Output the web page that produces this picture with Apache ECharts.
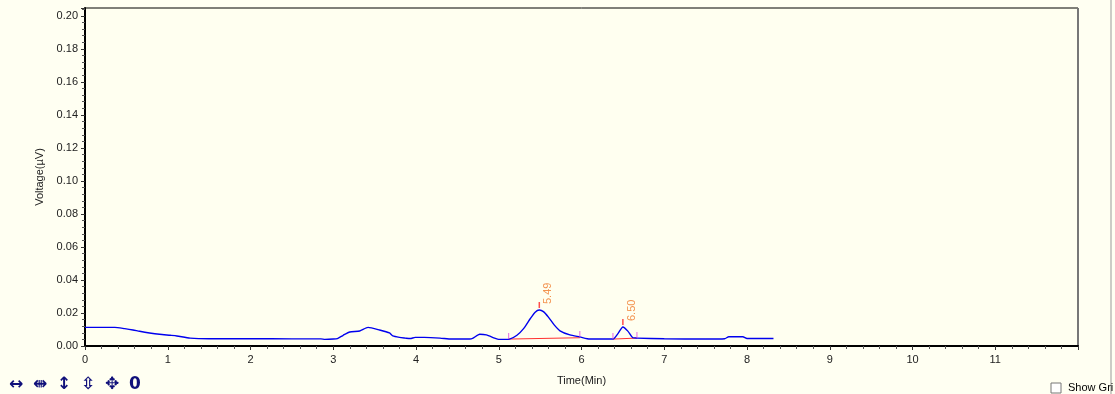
<!DOCTYPE html>
<html>
<head>
<meta charset="utf-8">
<script src="https://cdn.jsdelivr.net/npm/echarts@6/dist/echarts.min.js"></script>
<style>
  html, body { margin: 0; padding: 0; background: #fffff2; }
  #main { width: 1115px; height: 394px; }
</style>
</head>
<body>
<div id="main"></div>
<script>
// chromatogram trace (time in min, voltage)
var traceTime = [0, 0.36, 0.48, 0.58, 0.66, 0.78, 0.9, 1.03, 1.11, 1.27, 1.5, 2.0, 2.5, 2.85, 2.9, 3.0, 3.05, 3.12, 3.2, 3.32, 3.42, 3.56, 3.68, 3.72, 3.8, 3.87, 3.93, 3.99, 4.1, 4.29, 4.43, 4.65, 4.69, 4.77, 4.85, 4.95, 5.0, 5.13, 5.22, 5.3, 5.38, 5.44, 5.49, 5.54, 5.6, 5.67, 5.74, 5.86, 5.98, 6.1, 6.38, 6.44, 6.5, 6.56, 6.62, 6.67, 7.0, 7.5, 7.73, 7.78, 7.95, 8.0, 8.32];
var traceVolt = [0.0113, 0.0113, 0.0105, 0.0097, 0.0089, 0.0079, 0.0071, 0.0065, 0.0061, 0.0048, 0.0044, 0.0044, 0.0043, 0.0043, 0.0040, 0.0042, 0.0045, 0.0065, 0.0085, 0.0091, 0.0113, 0.0097, 0.0079, 0.0061, 0.0052, 0.0048, 0.0045, 0.0052, 0.0052, 0.0048, 0.0042, 0.0042, 0.0048, 0.0071, 0.0067, 0.0048, 0.0040, 0.0042, 0.0065, 0.0105, 0.0165, 0.0205, 0.0218, 0.0208, 0.0175, 0.0128, 0.0092, 0.0067, 0.0055, 0.0042, 0.0042, 0.0075, 0.0115, 0.0090, 0.0050, 0.0048, 0.0044, 0.0042, 0.0044, 0.0056, 0.0056, 0.0045, 0.0045];

// integration baselines
var base1 = [[5.12, 0.0042], [5.98, 0.0050]];
var base2 = [[6.38, 0.0042], [6.67, 0.0048]];

// peak apexes and start/end marks
var peakTimes = [5.49, 6.50];
var peakVolts = [0.0218, 0.0115];
var edgeMarks = [[5.12, 0.0042], [5.98, 0.0055], [6.38, 0.0042], [6.67, 0.0048]];

var yTicks = ['0.00', '0.02', '0.04', '0.06', '0.08', '0.10', '0.12', '0.14', '0.16', '0.18', '0.20'];
var toolIcons = ['↔', '⇼', '↕', '⇳', '✥', '0'];

var lineData = traceTime.map(function (t, i) { return [t, traceVolt[i]]; });
var peakData = peakTimes.map(function (t, i) { return [t, peakVolts[i]]; });

var chart = echarts.init(document.getElementById('main'));
var txt = '#222';
var font = 'Liberation Sans, Arial, sans-serif';

var toolbar = toolIcons.map(function (s, i) {
    return {
        type: 'text', left: 9 + i * 24, top: 376,
        style: { text: s, fill: '#10107a', font: 'bold 17px DejaVu Sans' }
    };
});

var option = {
    backgroundColor: '#fffff2',
    animation: false,
    grid: {
        left: 85, right: 37, top: 8, bottom: 48,
        show: true, backgroundColor: '#fffff0',
        borderColor: '#000', borderWidth: 1
    },
    xAxis: {
        type: 'value', min: 0, max: 12, interval: 1,
        name: 'Time(Min)', nameLocation: 'middle', nameGap: 29,
        nameTextStyle: { color: txt, fontSize: 11, fontFamily: font },
        axisLine: { show: true, onZero: false, lineStyle: { color: '#000', width: 2 } },
        axisTick: { show: true, length: 4, lineStyle: { color: '#333' } },
        minorTick: { show: true, splitNumber: 5, length: 3, lineStyle: { color: '#555' } },
        splitLine: { show: false },
        axisLabel: { color: txt, fontSize: 11, fontFamily: font, margin: 8, showMaxLabel: false }
    },
    yAxis: {
        type: 'value', min: 0, max: 0.2048, interval: 0.02,
        name: 'Voltage(µV)', nameLocation: 'middle', nameGap: 40, nameRotate: 90,
        nameTextStyle: { color: txt, fontSize: 11, fontFamily: font },
        axisLine: { show: true, onZero: false, lineStyle: { color: '#000', width: 2 } },
        axisTick: { show: true, length: 4, lineStyle: { color: '#333' } },
        minorTick: { show: true, splitNumber: 5, length: 3, lineStyle: { color: '#555' } },
        splitLine: { show: false },
        axisLabel: {
            color: txt, fontSize: 11, fontFamily: font, margin: 7, showMaxLabel: false,
            formatter: function (v) {
                var i = Math.round(v / 0.02);
                return Math.abs(v - i * 0.02) < 1e-6 ? yTicks[i] : '';
            }
        }
    },
    series: [
        {
            type: 'line', data: lineData, symbol: 'none', smooth: 0.2,
            lineStyle: { color: '#0000ee', width: 1.4 }, z: 3
        },
        {
            type: 'line', data: base1, symbol: 'none',
            lineStyle: { color: '#ff3030', width: 1 }, z: 2
        },
        {
            type: 'line', data: base2, symbol: 'none',
            lineStyle: { color: '#ff3030', width: 1 }, z: 2
        },
        {
            type: 'scatter', data: edgeMarks, symbol: 'rect',
            symbolSize: [1, 6], symbolOffset: [0, -3],
            itemStyle: { color: '#e040e0' }, z: 4
        },
        {
            type: 'scatter', data: peakData, symbol: 'rect',
            symbolSize: [1.5, 6], symbolOffset: [0, -5],
            itemStyle: { color: '#ff2020' }, z: 4,
            label: {
                show: true, position: 'top', distance: 0, rotate: 90,
                align: 'left', verticalAlign: 'middle', offset: [-2, 9],
                color: '#f07828', fontSize: 11, fontFamily: font,
                formatter: function (p) { return p.value[0].toFixed(2); }
            }
        }
    ],
    graphic: [
        // shadowed right border of the plot
        { type: 'line', shape: { x1: 1078, y1: 8, x2: 1078, y2: 347 }, style: { stroke: '#777', lineWidth: 2 } },
        // right panel edge
        { type: 'line', shape: { x1: 1111, y1: 0, x2: 1111, y2: 394 }, style: { stroke: '#999', lineWidth: 1 } },
        // Show Grid checkbox
        { type: 'rect', shape: { x: 1051, y: 383, width: 10, height: 10 }, style: { fill: '#fff', stroke: '#777', lineWidth: 1 } },
        { type: 'text', left: 1068, top: 382, style: { text: 'Show Gri', fill: '#000', font: '11px Liberation Sans' } }
    ].concat(toolbar)
};

chart.setOption(option);
</script>
</body>
</html>
